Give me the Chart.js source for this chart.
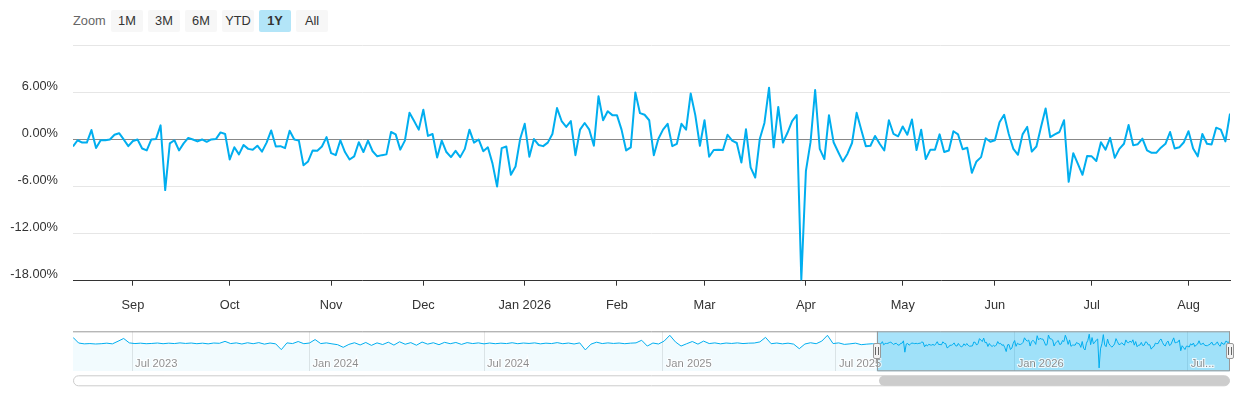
<!DOCTYPE html>
<html>
<head>
<meta charset="utf-8">
<script src="https://cdn.jsdelivr.net/npm/chart.js@4.4.1/dist/chart.umd.min.js"></script>
<style>
  html, body { margin: 0; padding: 0; background: #fff; }
  body {
    width: 1240px; height: 400px; position: relative; overflow: hidden;
    font-family: "Liberation Sans", Arial, Helvetica, sans-serif;
  }
  #mainChart { position: absolute; left: 0; top: 0; }
  #navChart { position: absolute; left: 0; top: 320px; }
  .zoom-label {
    position: absolute; left: 73px; top: 10px; height: 22px; line-height: 22px;
    font-size: 12.8px; color: #666666;
  }
  .range-btn {
    position: absolute; top: 10px; width: 32px; height: 22px; line-height: 22px;
    text-align: center; background: #f7f7f7; border-radius: 2px;
    font-size: 12.8px; color: #333333;
  }
  .range-btn.active { background: #b3e5f8; font-weight: bold; }
</style>
</head>
<body>
<div id="rangeSelector"><div class="zoom-label">Zoom</div></div>
<canvas id="mainChart" width="1240" height="320"></canvas>
<canvas id="navChart" width="1240" height="80"></canvas>
<script>
// Daily returns (%) for the selected 1Y window, one per trading day
const dailyReturns = [
  -0.9, -0.1, -0.4, -0.4, 1.2, -1.1, -0.1, -0.1, 0.0, 0.6,
  0.8, 0.0, -0.85, -0.2, 0.0, -1.15, -1.4, 0.0, 0.05, 1.8,
  -6.45, -0.5, -0.1, -1.4, -0.5, 0.2, 0.0, -0.25, 0.0, -0.3,
  0.0, 0.05, 0.9, 0.7, -2.55, -1.0, -1.9, -0.7, -1.2, -1.3,
  -0.8, -1.55, -0.4, 1.15, -0.9, -0.85, -1.1, 1.1, 0.0, -0.15,
  -3.3, -2.8, -1.4, -1.45, -0.9, 0.3, -1.75, -2.0, -0.1, -1.6,
  -2.55, -2.15, -0.35, -1.6, -0.15, -1.5, -2.15, -2.0, -1.9, 0.95,
  0.65, -1.3, -0.15, 3.4, 2.35, 1.25, 3.8, 0.45, 0.7, -2.3,
  -0.15, -1.6, -2.25, -1.45, -2.25, -1.2, 1.25, -0.4, 0.0, -1.5,
  -1.0, -3.05, -6.0, -1.1, -0.9, -4.5, -3.45, 0.05, 2.0, -2.2,
  0.05, -0.7, -0.85, -0.4, 0.7, 4.0, 2.35, 1.6, 2.35, -2.0,
  1.25, 2.1, 1.25, -0.8, 5.5, 2.45, 3.6, 3.1, 3.1, 1.25,
  -1.4, -1.0, 6.0, 3.35, 3.15, 2.45, -2.0, 0.1, 1.25, 2.0,
  -0.85, -0.55, 2.0, 1.25, 5.85, 3.1, -0.8, 2.45, -2.2, -1.35,
  -1.3, -1.35, 0.6, -0.15, -0.45, -2.95, 1.3, -3.55, -4.85, 0.1,
  2.1, 6.6, -1.0, 4.15, -0.4, 0.85, 2.35, 3.1, -17.85, -4.0,
  -0.35, 6.3, -1.2, -2.5, 3.1, -0.35, -1.6, -2.8, -1.85, -0.45,
  3.4, 1.25, -0.85, -0.8, 0.45, -0.55, -1.4, 2.45, 0.7, 0.4,
  1.65, 0.6, 2.55, -1.35, 1.25, -2.5, -1.3, -1.3, 0.65, -1.6,
  -1.4, 1.05, 0.65, -1.25, -1.05, -4.25, -2.8, -2.25, 0.15, -0.3,
  -0.1, 2.2, 3.15, 0.7, -1.2, -1.95, 0.65, 1.6, -1.55, -0.9,
  1.6, 3.95, 0.3, 0.65, 0.95, 2.45, -5.4, -1.75, -3.1, -4.5,
  -2.1, -2.15, -2.75, -0.35, -1.3, 0.2, -2.35, -1.2, -0.55, 1.85,
  -0.75, -0.6, 0.1, -1.4, -1.7, -1.7, -1.05, -0.55, 0.95, -1.15,
  -1.0, -0.35, 1.05, -1.15, -2.15, 0.7, -0.55, -0.65, 1.5, 1.25,
  -0.25, 3.3
];

// Month starts inside the 1Y window (index of first trading day)
const monthTickIndex = [13, 34, 56, 76, 98, 118, 137, 159, 180, 200, 221, 242];
const monthTickLabels = ['Sep', 'Oct', 'Nov', 'Dec', 'Jan 2026', 'Feb', 'Mar', 'Apr', 'May', 'Jun', 'Jul', 'Aug'];

const yTicks = [-18, -12, -6, 0, 6, 12];

// Earlier history shown only in the navigator, sampled every 4 trading days
const historyStart = -571;
const historyStep = 4;
const historyReturns = [
  4.3, 0.2, -0.4, -0.2, -0.5, -0.3, 0.1, -0.4, 1.5, 3.5,
  0.3, -0.2, 0.1, -0.3, -0.1, 0.2, -0.3, 0.1, -0.2, 0.3,
  -0.1, 0.2, -0.3, 0.1, -0.4, 0.2, 0.0, 1.4, -0.2, 0.3,
  -0.5, 0.4, -0.3, 0.5, -0.6, 0.2, -0.4, -4.6, 0.3, -0.2,
  1.3, -0.3, 0.2, 2.7, -0.2, 0.3, -0.4, -1.0, -2.9, -0.8,
  0.4, -1.2, 0.6, -1.5, 0.3, -0.9, 0.8, -1.3, 1.1, -0.7,
  0.5, -1.4, 0.9, -0.6, 0.4, -1.0, 0.7, -0.3, 0.6, -0.8,
  0.5, -0.2, 0.3, -0.4, 0.2, -0.3, 0.1, -0.2, 0.4, -0.3,
  0.2, -0.1, 0.3, -0.4, 0.1, -0.2, 0.5, -0.3, 0.2, -0.5,
  0.3, -4.8, -0.6, 0.8, -0.2, 0.3, -0.1, 0.2, -0.3, 0.1,
  0.3, 2.2, -2.0, 0.2, -0.5, 1.6, 5.8, 1.0, -2.0, -0.3,
  1.3, -0.6, 1.6, -0.2, 0.3, -0.4, 0.2, -0.1, 0.3, -0.2,
  0.1, 0.2, 1.0, 4.3, -0.3, 0.2, -0.4, 0.1, -0.6, -3.9,
  -0.5, 0.4, -0.3, 1.6, 5.8, -0.2, 0.3, -0.8, -0.4, 0.1,
  -1.0, -0.6, -0.3
];

// Navigator half-year ticks, in the same trading-day index units
const navTickIndex = [-529, -403, -279, -152, -29, 98, 221];
const navTickLabels = ['Jul 2023', 'Jan 2024', 'Jul 2024', 'Jan 2025', 'Jul 2025', 'Jan 2026', 'Jul 2026'];

const rangeButtons = ['1M', '3M', '6M', 'YTD', '1Y', 'All'];
const activeButton = '1Y';

const FONT = '"Liberation Sans", Arial, Helvetica, sans-serif';
const LINE_COLOR = '#00aeef';

function buildRangeSelector() {
  const wrap = document.getElementById('rangeSelector');
  rangeButtons.forEach((label, i) => {
    const btn = document.createElement('div');
    btn.className = 'range-btn' + (label === activeButton ? ' active' : '');
    btn.style.left = (111 + i * 37) + 'px';
    btn.textContent = label;
    wrap.appendChild(btn);
  });
}

function buildMainChart() {
  new Chart(document.getElementById('mainChart'), {
    type: 'line',
    data: {
      datasets: [{
        data: dailyReturns.map((v, i) => ({ x: i, y: v })),
        borderColor: LINE_COLOR,
        borderWidth: 2,
        borderJoinStyle: 'round',
        pointRadius: 0,
        tension: 0,
        fill: false
      }]
    },
    options: {
      responsive: false,
      animation: false,
      layout: { padding: { top: 45.3, right: 10, left: 0, bottom: 0 } },
      plugins: { legend: { display: false }, tooltip: { enabled: false } },
      scales: {
        x: {
          type: 'linear',
          min: 0,
          max: dailyReturns.length - 1,
          afterBuildTicks: s => { s.ticks = monthTickIndex.map(v => ({ value: v })); },
          afterFit: s => { s.height = 39.3; },
          grid: { drawOnChartArea: false, drawTicks: true, tickLength: 5, color: '#333333' },
          border: { display: true, color: '#333333', width: 1 },
          ticks: {
            autoSkip: false,
            maxRotation: 0,
            padding: 12,
            color: '#333333',
            font: { family: FONT, size: 12.8 },
            callback: (v, i) => monthTickLabels[i]
          }
        },
        y: {
          min: -18,
          max: 12,
          afterBuildTicks: s => { s.ticks = yTicks.map(v => ({ value: v })); },
          afterFit: s => { s.width = 73; },
          grid: {
            drawTicks: false,
            color: c => (c.tick && c.tick.value === 0 ? '#888888' : '#e6e6e6')
          },
          border: { display: false },
          ticks: {
            padding: 15,
            labelOffset: -6,
            color: '#333333',
            font: { family: FONT, size: 12.8 },
            callback: v => (v === 12 ? '' : v.toFixed(2) + '%')
          }
        }
      }
    }
  });
}

function roundRect(ctx, x, y, w, h, r) {
  ctx.beginPath();
  if (ctx.roundRect) ctx.roundRect(x, y, w, h, r);
  else ctx.rect(x, y, w, h);
}

const navigatorDecor = {
  id: 'navigatorDecor',
  beforeDatasetsDraw(chart) {
    const { ctx, chartArea: a, scales: { x } } = chart;
    const x0 = x.getPixelForValue(0);
    const x1 = x.getPixelForValue(dailyReturns.length - 1);
    ctx.save();
    ctx.fillStyle = 'rgba(0, 174, 239, 0.34)';
    ctx.fillRect(x0, a.top, x1 - x0, a.bottom - a.top);
    ctx.restore();
  },
  afterDraw(chart) {
    const { ctx, chartArea: a, scales: { x } } = chart;
    const x0 = Math.round(x.getPixelForValue(0));
    const x1 = Math.round(x.getPixelForValue(dailyReturns.length - 1));
    ctx.save();

    // half-year labels inside the navigator, cut back to a word when they overflow
    ctx.font = '11.2px ' + FONT;
    ctx.textBaseline = 'alphabetic';
    navTickIndex.forEach((v, i) => {
      const px = x.getPixelForValue(v) + 3;
      let text = navTickLabels[i];
      if (px + ctx.measureText(text).width > a.right) {
        const words = text.split(' ');
        while (words.length > 1 && px + ctx.measureText(words.join(' ') + '...').width > a.right) {
          words.pop();
        }
        text = words.join(' ') + '...';
      }
      ctx.lineWidth = 2;
      ctx.strokeStyle = 'rgba(255,255,255,0.8)';
      ctx.strokeText(text, px, a.bottom - 4);
      ctx.fillStyle = 'rgba(0,0,0,0.45)';
      ctx.fillText(text, px, a.bottom - 4);
    });

    // outline
    ctx.strokeStyle = '#999999';
    ctx.lineWidth = 1;
    ctx.beginPath();
    ctx.moveTo(a.left, a.top + 0.5);
    ctx.lineTo(a.right, a.top + 0.5);
    ctx.moveTo(x0 + 0.5, a.top);
    ctx.lineTo(x0 + 0.5, a.bottom - 0.5);
    ctx.lineTo(x1 - 0.5, a.bottom - 0.5);
    ctx.lineTo(x1 - 0.5, a.top);
    ctx.stroke();

    // handles
    const mid = Math.round((a.top + a.bottom) / 2);
    [x0, x1].forEach(px => {
      roundRect(ctx, px - 3.5, mid - 7.5, 7, 15, 1.5);
      ctx.fillStyle = '#f2f2f2';
      ctx.fill();
      ctx.strokeStyle = '#999999';
      ctx.stroke();
      ctx.beginPath();
      ctx.moveTo(px - 1.5, mid - 4);
      ctx.lineTo(px - 1.5, mid + 4);
      ctx.moveTo(px + 1.5, mid - 4);
      ctx.lineTo(px + 1.5, mid + 4);
      ctx.strokeStyle = '#666666';
      ctx.stroke();
    });

    // scrollbar
    const sbTop = a.bottom + 4.5;
    roundRect(ctx, a.left + 0.5, sbTop, a.right - a.left - 1, 10, 5);
    ctx.fillStyle = '#ffffff';
    ctx.fill();
    ctx.strokeStyle = '#cccccc';
    ctx.stroke();
    roundRect(ctx, x0 + 2, sbTop, x1 - x0 - 2.5, 10, 5);
    ctx.fillStyle = '#cccccc';
    ctx.fill();

    ctx.restore();
  }
};

function buildNavigator() {
  const navData = historyReturns
    .map((v, i) => ({ x: historyStart + historyStep * i, y: v }))
    .concat(dailyReturns.map((v, i) => ({ x: i, y: v })));

  new Chart(document.getElementById('navChart'), {
    type: 'line',
    data: {
      datasets: [{
        data: navData,
        borderColor: LINE_COLOR,
        borderWidth: 1,
        backgroundColor: 'rgba(0, 174, 239, 0.05)',
        fill: 'start',
        pointRadius: 0,
        tension: 0
      }]
    },
    options: {
      responsive: false,
      animation: false,
      layout: { padding: { top: 11.3, right: 10, left: 73, bottom: 28.7 } },
      plugins: { legend: { display: false }, tooltip: { enabled: false } },
      scales: {
        x: {
          type: 'linear',
          min: historyStart,
          max: dailyReturns.length - 1,
          afterBuildTicks: s => { s.ticks = navTickIndex.map(v => ({ value: v })); },
          afterFit: s => { s.height = 0; },
          grid: { drawTicks: false, color: '#e6e6e6' },
          border: { display: false },
          ticks: { display: false }
        },
        y: { display: false, min: -20.3, max: 8.7 }
      }
    },
    plugins: [navigatorDecor]
  });
}

buildRangeSelector();
buildMainChart();
buildNavigator();
</script>
</body>
</html>
